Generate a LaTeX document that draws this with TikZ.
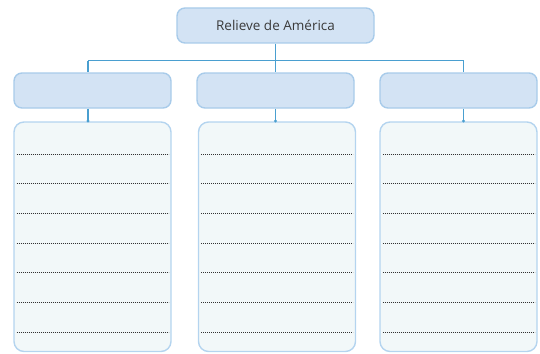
\documentclass[tikz,border=0pt]{standalone}
\usepackage{fontspec}
\setmainfont{Open Sans}
\definecolor{hdrfill}{HTML}{D3E3F4}
\definecolor{hdrdraw}{HTML}{A8CBEA}
\definecolor{bodyfill}{HTML}{F2F8F9}
\definecolor{bodydraw}{HTML}{B4D4EF}
\definecolor{conn}{HTML}{4A9FD0}
\definecolor{dotc}{HTML}{333333}
\definecolor{txt}{HTML}{3A3A3A}
\begin{document}
\begin{tikzpicture}[x=1pt,y=-1pt,
  hdr/.style={draw=hdrdraw,fill=hdrfill,line width=1.4pt,rounded corners=8pt},
  bodybox/.style={draw=bodydraw,fill=bodyfill,line width=1.4pt,rounded corners=10pt},
  link/.style={draw=conn,line width=1.2pt},
  wline/.style={draw=dotc,line width=0.7pt,dash pattern=on 1.4pt off 0.6pt}]
\useasboundingbox (0,0) rectangle (540,353);
% top
\node[hdr,minimum width=197pt,minimum height=35pt,inner sep=0pt,text=txt] (top) at (275.5,25.5) {\fontsize{13.5}{15}\selectfont Relieve de América};
% second level
\node[hdr,minimum width=157pt,minimum height=35pt] (h1) at (92.5,90.5) {};
\node[hdr,minimum width=157pt,minimum height=35pt] (h2) at (275.5,90.5) {};
\node[hdr,minimum width=157pt,minimum height=35pt] (h3) at (458.5,90.5) {};
% body boxes
\foreach \i/\cx in {1/92.5,2/277,3/458.5}{
  \path[bodybox] (\cx-78.5,122) rectangle (\cx+78.5,351.5);
  \coordinate (b\i) at (\cx,121);
  \foreach \yy in {154,183.7,213.4,243,272.8,302.5,332}{
    \draw[wline] (\cx-76,\yy) -- (\cx+76,\yy);
  }
}
\coordinate (j) at (275.5,60.5);
\coordinate (jl) at (88,60.5);
\coordinate (jr) at (463.5,60.5);
\draw[link] (top.south) -- (j);
\draw[link] (jl) -- (jr);
\draw[link] (jl) -- (jl |- h1.north);
\draw[link] (jr) -- (jr |- h3.north);
\draw[link] (j) -- (h2.north);
\draw[link] (h1.south -| jl) -- (jl |- b1);
\draw[link] (h2.south) -- (b2 -| h2.south);
\draw[link] (h3.south -| jr) -- (jr |- b3);
\fill[conn] (jl |- b1) circle (1.7pt);
\fill[conn] (b2 -| h2.south) circle (1.7pt);
\fill[conn] (jr |- b3) circle (1.7pt);
\end{tikzpicture}
\end{document}
